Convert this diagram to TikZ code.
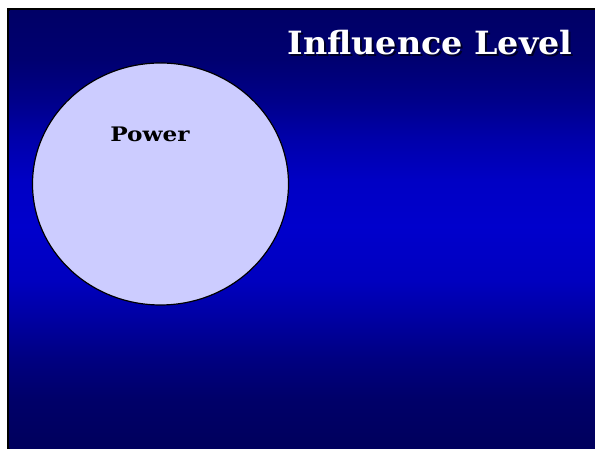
\documentclass[tikz,border=0pt]{standalone}
\usepackage{fontspec}
\setmainfont{DejaVu Serif}
\definecolor{circlefill}{RGB}{204,204,255}
\pgfdeclareverticalshading{slideblue}{100bp}{%
  color(0bp)=(blue!37!black); color(26bp)=(blue!37!black);
  color(30.7bp)=(blue!41!black); color(35.2bp)=(blue!50!black);
  color(39.8bp)=(blue!63!black); color(44.3bp)=(blue!75!black);
  color(50.4bp)=(blue!80!black); color(55.7bp)=(blue!77!black);
  color(60.3bp)=(blue!67!black); color(64.8bp)=(blue!54!black);
  color(69.4bp)=(blue!44!black); color(75bp)=(blue!40!black);
  color(100bp)=(blue!40!black)}
\tikzset{
  titletext/.style={anchor=base,font=\fontsize{32}{38}\selectfont\bfseries,xscale=1.043,transform shape},
}
\begin{document}
\begin{tikzpicture}[x=1pt,y=1pt]
  \useasboundingbox (0,0) rectangle (595,449);

  % Background
  \fill[black] (7,-1) rectangle (9.5,441);
  \fill[black] (7,438.5) rectangle (596,441);
  \shade[shading=slideblue] (9.5,-1) rectangle (596,438.5);

  % Title
  \node[titletext,text=black!85!blue] (titleshadow) at (432,392) {Influence Level};
  \node[titletext,text=white] (title) at (430,394) {Influence Level};

  % Circle
  \draw[fill=circlefill,line width=1.2pt] (160.5,265) ellipse (128 and 121);
  \node[anchor=base,font=\fontsize{20}{24}\selectfont\bfseries,xscale=1.16,transform shape]
    (power) at (150,307.3) {Power};
\end{tikzpicture}
\end{document}
